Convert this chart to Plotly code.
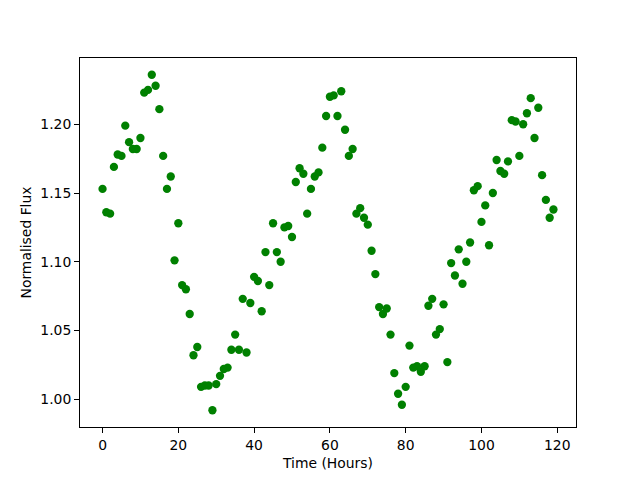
import plotly.graph_objects as go

hours = list(range(120))
flux = [
    1.153, 1.136, 1.135, 1.169, 1.178, 1.177, 1.199, 1.187, 1.182, 1.182,
    1.190, 1.223, 1.225, 1.236, 1.228, 1.211, 1.177, 1.153, 1.162, 1.101,
    1.128, 1.083, 1.080, 1.062, 1.032, 1.038, 1.009, 1.010, 1.010, 0.992,
    1.011, 1.017, 1.022, 1.023, 1.036, 1.047, 1.036, 1.073, 1.034, 1.070,
    1.089, 1.086, 1.064, 1.107, 1.083, 1.128, 1.107, 1.100, 1.125, 1.126,
    1.118, 1.158, 1.168, 1.164, 1.135, 1.153, 1.162, 1.165, 1.183, 1.206,
    1.220, 1.221, 1.206, 1.224, 1.196, 1.177, 1.182, 1.135, 1.139, 1.132,
    1.127, 1.108, 1.091, 1.067, 1.062, 1.066, 1.047, 1.019, 1.004, 0.996,
    1.009, 1.039, 1.023, 1.024, 1.020, 1.024, 1.068, 1.073, 1.047, 1.051,
    1.069, 1.027, 1.099, 1.090, 1.109, 1.084, 1.100, 1.114, 1.152, 1.155,
    1.129, 1.141, 1.112, 1.150, 1.174, 1.166, 1.164, 1.173, 1.203, 1.202,
    1.177, 1.200, 1.208, 1.219, 1.190, 1.212, 1.163, 1.145, 1.132, 1.138,
]
x_ticks = [0, 20, 40, 60, 80, 100, 120]
y_ticks = [1.00, 1.05, 1.10, 1.15, 1.20]

def padded(vals, frac=0.05):
    lo, hi = min(vals), max(vals)
    span = hi - lo
    return [lo - frac * span, hi + frac * span]

fig = go.Figure(go.Scatter(
    x=hours, y=flux, mode="markers",
    marker=dict(color="#008000", size=8.3, line=dict(width=0)),
    hoverinfo="skip",
))

font = dict(family="DejaVu Sans", size=13.9, color="black")
axis_common = dict(
    showgrid=False, zeroline=False, showline=True, mirror=True,
    linecolor="black", linewidth=1.1, ticks="outside", ticklen=4.9,
    tickwidth=1.1, tickcolor="black", tickfont=font,
)
fig.update_layout(
    width=624, height=464,
    margin=dict(l=72, r=56, t=49.6, b=44.8, autoexpand=False),
    paper_bgcolor="white", plot_bgcolor="white",
    showlegend=False,
    font=font,
    xaxis=dict(range=padded(hours), tickvals=x_ticks,
               ticktext=[str(v) for v in x_ticks],
               title=dict(text="Time (Hours)", font=font, standoff=6),
               **axis_common),
    yaxis=dict(range=padded(flux), tickvals=y_ticks,
               ticktext=[f"{v:.2f}" for v in y_ticks],
               title=dict(text="Normalised Flux", font=font, standoff=5),
               **axis_common),
)
fig.write_html("out.html")
